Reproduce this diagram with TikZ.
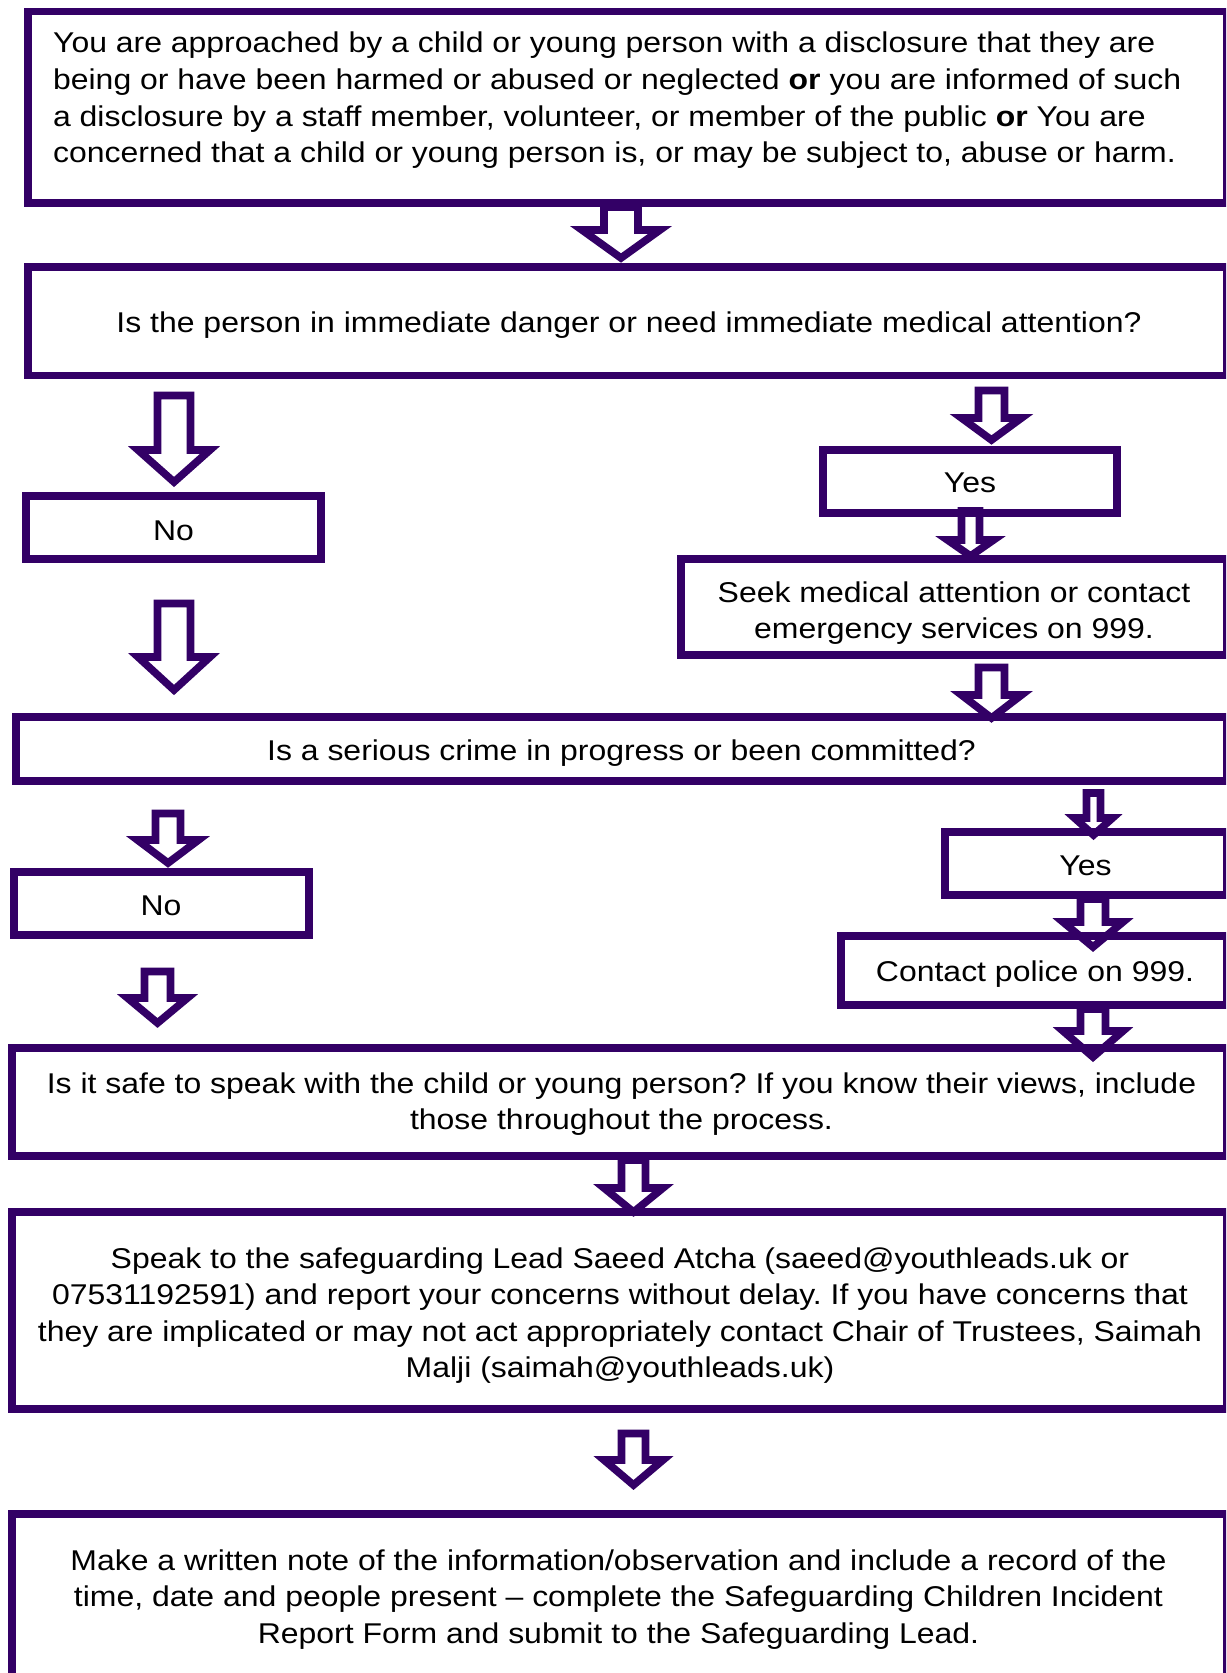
\documentclass[tikz,border=0pt]{standalone}
\usepackage{fontspec}
\setmainfont{Liberation Sans}[FakeStretch=1.1175]
\usetikzlibrary{fit}
\frenchspacing
\definecolor{pur}{RGB}{51,0,102}
\newcommand\mainsize{\fontsize{14.3pt}{18.3pt}\selectfont}
\newcommand\mlc[1]{\begin{tabular}[t]{@{}c@{}}#1\end{tabular}}
\newcommand\mll[1]{\begin{tabular}[t]{@{}l@{}}#1\end{tabular}}
\tikzset{
  box/.style={draw=pur, line width=3.6pt, inner sep=0pt},
  barrow/.style={draw=pur, fill=white, line width=3.8pt, line join=miter},
  txt/.style={inner sep=0pt, anchor=base, font=\mainsize, text=black},
}
% cx, top, headstart, tip, shaft half width, head half width
\newcommand\barrow[6]{%
  \draw[barrow] ({#1-#5},#2) -- ({#1-#5},#3) -- ({#1-#6},#3) -- (#1,#4)
    -- ({#1+#6},#3) -- ({#1+#5},#3) -- ({#1+#5},#2) -- cycle;}
\begin{document}
\begin{tikzpicture}[x=0.5pt,y=-0.5pt]
\useasboundingbox (0,0) rectangle (1226,1673);
\clip (0,0) rectangle (1226,1673);
% block arrows
\barrow{621}{207}{230}{258}{17}{39}
\barrow{174}{395.5}{450}{482}{16.5}{36}
\barrow{174}{603.5}{657}{690}{16.5}{36}
\barrow{991.5}{390.5}{418}{440}{13}{30}
\barrow{970.5}{511}{540}{556}{9}{23}
\barrow{991.5}{667.5}{695}{718}{13}{30}
\barrow{1093.5}{793}{818}{835}{7}{19}
\barrow{1093}{899}{922}{947}{12.5}{30}
\barrow{1093}{1009}{1031}{1057}{12.5}{30}
\barrow{168}{813.5}{840}{863}{12.5}{30.5}
\barrow{157.5}{971.5}{998}{1023}{13}{30}
\barrow{633.5}{1160}{1188}{1212}{12}{29.5}
\barrow{633.5}{1433.5}{1460}{1485}{12}{29.5}
% boxes
\node[box, fit={(28,11.5) (1227,203)}] (b1) {};
\node[box, fit={(28,267) (1227,375.5)}] (b2) {};
\node[box, fit={(26,496) (321,559)}] (no1) {};
\node[box, fit={(823,450) (1117,513)}] (yes1) {};
\node[box, fit={(681,559) (1227,655)}] (seek) {};
\node[box, fit={(16,717) (1227,781)}] (b3) {};
\node[box, fit={(945,832) (1227,895)}] (yes2) {};
\node[box, fit={(14,872) (309,935)}] (no2) {};
\node[box, fit={(841,936) (1227,1005)}] (police) {};
\node[box, fit={(12,1048) (1227,1156)}] (b4) {};
\node[box, fit={(12,1212) (1227,1409)}] (b5) {};
\node[box, fit={(12,1514) (1227,1700)}] (b6) {};
% texts
\node[txt, anchor=base west] (t1) at (52.7,53) {\mll{You are approached by a child or young person with a disclosure that they are\\
being or have been harmed or abused or neglected \textbf{or} you are informed of such\\
a disclosure by a staff member, volunteer, or member of the public \textbf{or} You are\\
concerned that a child or young person is, or may be subject to, abuse or harm.}};
\node[txt] (t2) at (629,333) {Is the person in immediate danger or need immediate medical attention?};
\node[txt] (tno1) at (173.5,540) {No};
\node[txt] (tyes1) at (970,493) {Yes};
\node[txt] (tseek) at (954,602) {\mlc{Seek medical attention or contact\\emergency services on 999.}};
\node[txt] (t3) at (621.5,760) {Is a serious crime in progress or been committed?};
\node[txt] (tyes2) at (1085.5,875) {Yes};
\node[txt] (tno2) at (161,915) {No};
\node[txt] (tpolice) at (1035,981.5) {Contact police on 999.};
\node[txt] (t4) at (621.5,1093) {\mlc{Is it safe to speak with the child or young person? If you know their views, include\\those throughout the process.}};
\node[txt] (t5) at (620,1268) {\mlc{Speak to the safeguarding Lead Saeed Atcha (saeed@youthleads.uk or\\
07531192591) and report your concerns without delay. If you have concerns that\\
they are implicated or may not act appropriately contact Chair of Trustees, Saimah\\
Malji (saimah@youthleads.uk)}};
\node[txt] (t6) at (618.5,1570) {\mlc{Make a written note of the information/observation and include a record of the\\
time, date and people present -- complete the Safeguarding Children Incident\\
Report Form and submit to the Safeguarding Lead.}};
\end{tikzpicture}
\end{document}
